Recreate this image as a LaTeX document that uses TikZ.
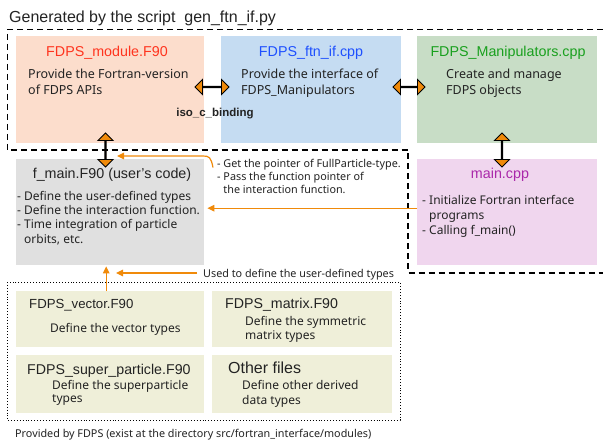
\documentclass[tikz,border=0pt]{standalone}
\usepackage{fontspec}
\setmainfont{Liberation Sans}
\newfontfamily\bodyfont{Noto Sans}
\usetikzlibrary{shapes.arrows,arrows.meta,calc}
\definecolor{cmod}{RGB}{252,221,204}
\definecolor{cftn}{RGB}{197,220,242}
\definecolor{cman}{RGB}{200,221,198}
\definecolor{cmain}{RGB}{240,214,238}
\definecolor{cgray}{RGB}{224,224,224}
\definecolor{cbeige}{RGB}{239,239,217}
\definecolor{tred}{RGB}{255,52,30}
\definecolor{tblue}{RGB}{30,80,255}
\definecolor{tgreen}{RGB}{25,160,30}
\definecolor{tpurple}{RGB}{170,40,170}
\definecolor{corange}{RGB}{240,138,10}
\definecolor{ctext}{RGB}{35,35,35}
\begin{document}
\begin{tikzpicture}[x=1pt,y=-1pt,
  box/.style={draw=none,inner sep=0,anchor=north west},
  ttl/.style={inner sep=0,anchor=base,font=\fontsize{14.3}{16}\selectfont},
  body/.style={inner sep=0,anchor=base west,align=left,text=ctext,font=\bodyfont\fontsize{12.5}{16}\selectfont},
  bodys/.style={inner sep=0,anchor=base west,align=left,text=ctext,font=\bodyfont\fontsize{12}{14.5}\selectfont},
  note/.style={inner sep=0,anchor=base west,align=left,text=ctext,font=\bodyfont\fontsize{10.8}{12.7}\selectfont},
  blockarrow/.style={double arrow,draw=black,line width=0.9pt,fill=corange,inner sep=0,
     minimum width=15pt,double arrow head extend=5pt},
  thinarrow/.style={draw=corange,line width=1.2pt,-{Triangle[length=7pt,width=6.5pt]}},
  gendash/.style={line width=1.3pt,dash pattern=on 6pt off 4pt},
]
\useasboundingbox (0,0) rectangle (603,441);
\fill[white] (0,0) rectangle (603,441);

% title
\node[inner sep=0,anchor=base west,font=\fontsize{16}{18}\selectfont,text=ctext] (gen) at (9,22.5) {Generated by the script~~gen\_ftn\_if.py};

% dashed generated region
\draw[gendash] (603,29.5) -- (7.5,29.5) -- (7.5,150) -- (408,150) -- (408,273) -- (603,273);

% upper boxes
\node[box,fill=cmod,minimum width=188pt,minimum height=107pt] (mod) at (16,36) {};
\node[box,fill=cftn,minimum width=180pt,minimum height=107pt] (ftn) at (221,36) {};
\node[box,fill=cman,minimum width=180pt,minimum height=107pt] (man) at (417,36) {};
\node[ttl,text=tred] (modt) at (107,57) {FDPS\_module.F90};
\node[ttl,text=tblue] (ftnt) at (311,57) {FDPS\_ftn\_if.cpp};
\node[ttl,text=tgreen] (mant) at (508,57) {FDPS\_Manipulators.cpp};
% multi-line nodes: base anchor = baseline of the last line
\node[body] (modb) at (28,94.5) {Provide the Fortran-version\\of FDPS APIs};
\node[body] (ftnb) at (241,94.5) {Provide the interface of\\FDPS\_Manipulators};
\node[body] (manb) at (446,94.5) {Create and manage\\FDPS objects};
\node[inner sep=0,anchor=base,font=\bfseries\fontsize{11.5}{13}\selectfont,text=ctext] (iso) at (215,117) {iso\_c\_binding};

% middle boxes
\node[box,fill=cgray,minimum width=188pt,minimum height=106pt] (fmain) at (16,159) {};
\node[box,fill=cmain,minimum width=180pt,minimum height=106pt] (mainc) at (417,159) {};
\node[ttl,text=ctext] (fmaint) at (112,179) {f\_main.F90 (user’s code)};
\node[ttl,text=tpurple] (maint) at (500,179) {main.cpp};
\node[bodys] (fmainb) at (17,243.5) {- Define the user-defined types\\- Define the interaction function.\\- Time integration of particle\\\hphantom{- }orbits, etc.};
\node[bodys,font=\bodyfont\fontsize{12}{15}\selectfont] (mainb) at (422,235) {- Initialize Fortran interface\\\hphantom{- }programs\\- Calling f\_main()};
\node[note] (ann) at (217,193.4) {- Get the pointer of FullParticle-type.\\- Pass the function pointer of\\\hphantom{- }the interaction function.};

% lower modules
\draw[dotted,line width=0.9pt] (7,282) rectangle (400,420);
\node[box,fill=cbeige,minimum width=188pt,minimum height=56pt] (vec) at (16,291) {};
\node[box,fill=cbeige,minimum width=180pt,minimum height=56pt] (mat) at (212,291) {};
\node[box,fill=cbeige,minimum width=188pt,minimum height=58pt] (sup) at (16,355) {};
\node[box,fill=cbeige,minimum width=180pt,minimum height=58pt] (oth) at (212,355) {};
\node[inner sep=0,anchor=base west,font=\fontsize{13.2}{15}\selectfont,text=ctext] (vect) at (29,308) {FDPS\_vector.F90};
\node[inner sep=0,anchor=base west,font=\fontsize{14.2}{15}\selectfont,text=ctext] (matt) at (225,308) {FDPS\_matrix.F90};
\node[inner sep=0,anchor=base west,font=\fontsize{14.2}{15}\selectfont,text=ctext] (supt) at (27,374) {FDPS\_super\_particle.F90};
\node[inner sep=0,anchor=base west,font=\fontsize{16}{18}\selectfont,text=ctext] (otht) at (228,373) {Other files};
\node[bodys] (vecb) at (50,332) {Define the vector types};
\node[bodys] (matb) at (245,339.5) {Define the symmetric\\matrix types};
\node[bodys,font=\bodyfont\fontsize{12}{13.5}\selectfont] (supb) at (52,402.5) {Define the superparticle\\types};
\node[bodys,font=\bodyfont\fontsize{12}{15}\selectfont] (othb) at (242,404) {Define other derived\\data types};
\node[note] (used) at (203,277) {Used to define the user-defined types};
\node[note] (prov) at (15,437) {Provided by FDPS (exist at the directory src/fortran\_interface/modules)};

% block arrows
\node[blockarrow,minimum height=34pt] (ha1) at (212,87) {};
\node[blockarrow,minimum height=32pt] (ha2) at (409,87) {};
\node[blockarrow,minimum height=34pt,rotate=90] (va1) at (105.5,150) {};
\node[blockarrow,minimum height=34pt,rotate=90] (va2) at (502,150) {};

% thin arrows
\coordinate (p1) at (117,156);
\draw[thinarrow] ([xshift=-4pt,yshift=-8pt]ann.north west) .. controls (211,157) and (209,156) .. (203,156) -- (p1);
\draw[thinarrow] ([yshift=4pt]mainc.west) -- ([xshift=3pt,yshift=4pt]fmain.east);
\draw[thinarrow] ([xshift=-4pt]vec.north) -- ([xshift=-4pt,yshift=-1pt]fmain.south);
\coordinate (p2) at (116,273);
\draw[thinarrow] ([xshift=-6pt,yshift=4pt]used.base west) -- (p2);
\end{tikzpicture}
\end{document}
